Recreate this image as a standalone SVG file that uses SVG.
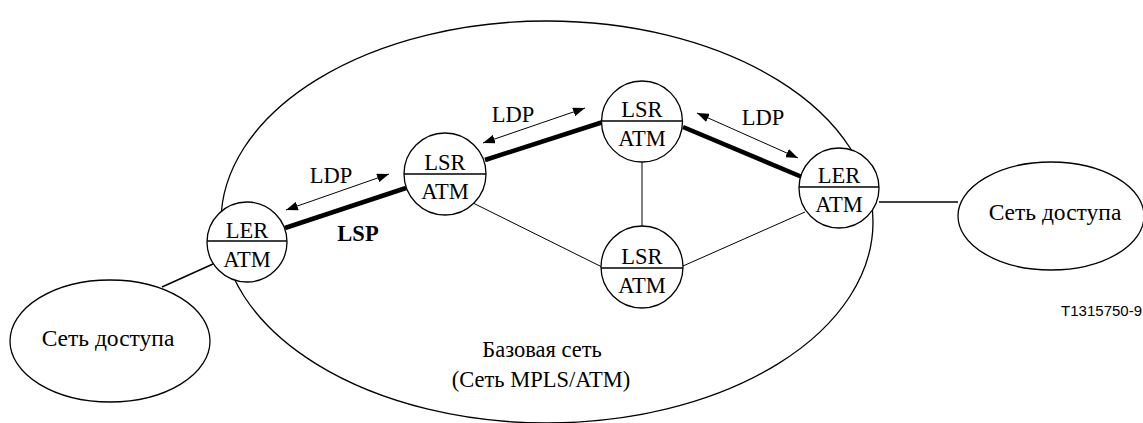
<svg xmlns="http://www.w3.org/2000/svg" width="1143" height="423" viewBox="0 0 1143 423">
<style>
.ln{stroke:#000;fill:none}
.thin{stroke:#000;stroke-width:1;fill:none}
.lsp{stroke:#000;stroke-width:4.5;fill:none}
.ldp{stroke:#000;stroke-width:1;fill:none}
.nc{fill:#fff;stroke:#000;stroke-width:1.3}
.dv{stroke:#000;stroke-width:1.6}
</style>
<defs>
<marker id="ah" viewBox="0 0 12 9" refX="12" refY="4.5" markerWidth="12" markerHeight="9" markerUnits="userSpaceOnUse" orient="auto-start-reverse">
<path d="M0,0 L12,4.5 L0,9 Z" fill="#000"/>
</marker>
</defs>
<rect width="1143" height="423" fill="#fff"/>
<g font-family="Liberation Serif, Times New Roman, serif" font-size="22.5" text-anchor="middle" fill="#000">
<g id="core">
<ellipse cx="547" cy="222" rx="326" ry="201" class="ln" stroke-width="1.3"/>
<text x="542" y="357">Базовая сеть</text>
<text x="541" y="387">(Сеть MPLS/ATM)</text>
</g>
<g id="access-left">
<ellipse cx="110" cy="341" rx="100" ry="61" class="ln" stroke-width="1.3"/>
<text x="108" y="346" font-size="23.5">Сеть доступа</text>
</g>
<g id="access-right">
<ellipse cx="1051" cy="216" rx="93" ry="54" class="ln" stroke-width="1.3"/>
<text x="1055" y="220" font-size="23.5">Сеть доступа</text>
</g>
<g id="connectors">
<line x1="162" y1="287" x2="213" y2="264" class="ln" stroke-width="1.5"/>
<line x1="879" y1="202" x2="958" y2="202" class="ln" stroke-width="1.5"/>
<line x1="285" y1="228" x2="406" y2="188" class="lsp"/>
<line x1="485" y1="160" x2="603" y2="122" class="lsp"/>
<line x1="683" y1="127" x2="802" y2="177" class="lsp"/>
<line x1="642" y1="162" x2="642" y2="226" class="thin"/>
<line x1="473" y1="203" x2="602" y2="267" class="thin"/>
<line x1="683" y1="266" x2="805" y2="212" class="thin"/>
<line x1="286" y1="210" x2="389" y2="174" class="ldp" marker-start="url(#ah)" marker-end="url(#ah)"/>
<line x1="483" y1="143" x2="585" y2="108" class="ldp" marker-start="url(#ah)" marker-end="url(#ah)"/>
<line x1="697" y1="113" x2="798" y2="158" class="ldp" marker-start="url(#ah)" marker-end="url(#ah)"/>
<text x="331" y="183">LDP</text>
<text x="513" y="122">LDP</text>
<text x="763" y="125">LDP</text>
<text x="358" y="241" font-weight="bold">LSP</text>
</g>
<g id="ler-left">
<circle cx="247" cy="242" r="40" class="nc"/>
<line x1="207" y1="241" x2="287" y2="241" class="dv"/>
<text x="247" y="238">LER</text>
<text x="247" y="267">ATM</text>
</g>
<g id="lsr-1">
<circle cx="445" cy="174" r="41" class="nc"/>
<line x1="404" y1="174" x2="486" y2="174" class="dv"/>
<text x="445" y="170">LSR</text>
<text x="445" y="199">ATM</text>
</g>
<g id="lsr-top">
<circle cx="642" cy="121.5" r="40.5" class="nc"/>
<line x1="601.5" y1="121" x2="682.5" y2="121" class="dv"/>
<text x="642" y="117">LSR</text>
<text x="642" y="146">ATM</text>
</g>
<g id="ler-right">
<circle cx="839" cy="188" r="40" class="nc"/>
<line x1="799" y1="187" x2="879" y2="187" class="dv"/>
<text x="839" y="183">LER</text>
<text x="839" y="212">ATM</text>
</g>
<g id="lsr-bottom">
<circle cx="642" cy="267" r="41" class="nc"/>
<line x1="601" y1="268" x2="683" y2="268" class="dv"/>
<text x="642" y="264">LSR</text>
<text x="642" y="293">ATM</text>
</g>
</g>
<text x="1142" y="316" font-family="Liberation Sans, Arial, sans-serif" font-size="15" text-anchor="end">T1315750-9</text>
</svg>
